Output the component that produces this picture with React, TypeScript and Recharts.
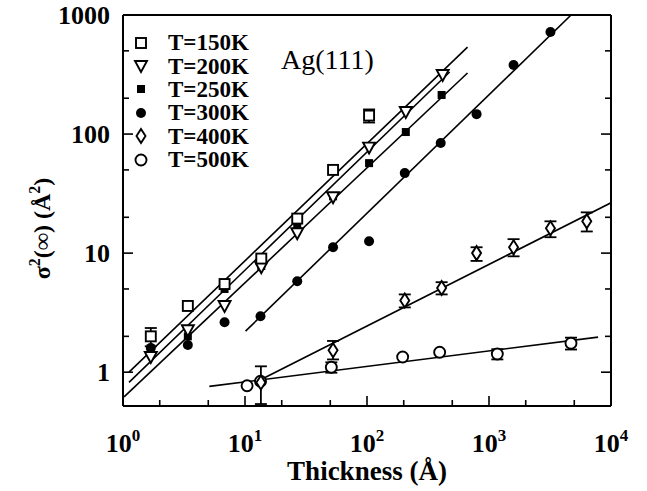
import React from "react";
import { ComposedChart, Line, Scatter, XAxis, YAxis, ErrorBar, Legend } from "recharts";

const FONT = '"Liberation Serif", "Times New Roman", serif';

// log axes: majors carry labels, 2 and 5 get short ticks
const xTicks = [1, 2, 5, 10, 20, 50, 100, 200, 500, 1000, 2000, 5000, 10000];
const xMajor = [1, 10, 100, 1000, 10000];
const yTicks = [1, 2, 5, 10, 20, 50, 100, 200, 500, 1000];
const yMajor = [1, 10, 100, 1000];

// T=150K
const t150x = [1.69, 3.4, 6.8, 13.6, 26.8, 52.7, 104];
const t150y = [2.0, 3.6, 5.5, 9.0, 19.5, 50, 143];
const t150e = [0.35, 0, 0, 0, 0, 0, 18];
// T=200K
const t200x = [1.69, 3.4, 6.8, 13.6, 26.8, 52.7, 104, 208, 417];
const t200y = [1.34, 2.25, 3.6, 7.6, 14.7, 29.5, 77, 153, 313];
// T=250K
const t250x = [1.69, 3.4, 6.8, 13.6, 26.8, 52.7, 104, 208, 409];
const t250y = [1.53, 2.0, 5.0, 7.8, 17.5, 30, 57, 104, 213];
// T=300K
const t300x = [1.69, 3.4, 6.8, 13.4, 26.8, 52.7, 104, 204, 402, 791, 1590, 3190];
const t300y = [1.6, 1.69, 2.63, 2.95, 5.8, 11.2, 12.6, 47, 84, 147, 380, 720];
// T=400K
const t400x = [13.5, 52.7, 204, 409, 791, 1590, 3190, 6330];
const t400y = [0.82, 1.53, 4.0, 5.1, 10, 11.2, 16.2, 18.5];
const t400lo = [0.28, 0.25, 0.5, 0.6, 1.4, 1.8, 2.6, 3.3];
const t400hi = [0.3, 0.3, 0.5, 0.6, 1.2, 1.9, 2.3, 3.5];
// T=500K
const t500x = [10.4, 13.4, 51, 196, 394, 1170, 4700];
const t500y = [0.77, 0.84, 1.1, 1.34, 1.47, 1.42, 1.75];
const t500e = [0, 0, 0.11, 0, 0, 0.14, 0.2];

// fitted lines, end points
const fit150x = [1.12, 667];
const fit150y = [1.0, 538];
const fit200x = [1.12, 476];
const fit200y = [0.82, 332];
const fit250x = [1.02, 667];
const fit250y = [0.62, 326];
const fit300x = [10.1, 4710];
const fit300y = [2.21, 1000];
const fit400x = [14.2, 10000];
const fit400y = [0.89, 26.5];
const fit500x = [5.1, 7830];
const fit500y = [0.76, 1.97];

const legendLabels = ["T=150K", "T=200K", "T=250K", "T=300K", "T=400K", "T=500K"];

const zip = (xs: number[], ys: number[], errs?: any[]) =>
  xs.map((x, i) => ({ x, y: ys[i], err: errs ? errs[i] : undefined }));

const d150 = zip(t150x, t150y, t150e);
const d200 = zip(t200x, t200y);
const d250 = zip(t250x, t250y);
const d300 = zip(t300x, t300y);
const d400 = zip(t400x, t400y, t400x.map((_, i) => [t400lo[i], t400hi[i]]));
const d500 = zip(t500x, t500y, t500e);
const fits = [
  zip(fit150x, fit150y),
  zip(fit200x, fit200y),
  zip(fit250x, fit250y),
  zip(fit300x, fit300y),
  zip(fit400x, fit400y),
  zip(fit500x, fit500y),
];

const SW = 1.9;
const OpenSquare = ({ cx, cy }: any) => (
  <rect x={cx - 5} y={cy - 5} width={10} height={10} fill="#fff" stroke="#000" strokeWidth={SW} />
);
const OpenTriangle = ({ cx, cy }: any) => (
  <polygon
    points={`${cx - 6},${cy - 5} ${cx + 6},${cy - 5} ${cx},${cy + 6}`}
    fill="#fff"
    stroke="#000"
    strokeWidth={SW}
  />
);
const FilledSquare = ({ cx, cy }: any) => <rect x={cx - 4} y={cy - 4} width={8} height={8} fill="#000" />;
const FilledCircle = ({ cx, cy }: any) => <circle cx={cx} cy={cy} r={5} fill="#000" />;
const OpenDiamond = ({ cx, cy }: any) => (
  <polygon
    points={`${cx},${cy - 7} ${cx + 4.5},${cy} ${cx},${cy + 7} ${cx - 4.5},${cy}`}
    fill="#fff"
    stroke="#000"
    strokeWidth={SW}
  />
);
const OpenCircle = ({ cx, cy }: any) => (
  <circle cx={cx} cy={cy} r={5.5} fill="#fff" stroke="#000" strokeWidth={SW} />
);
const markers = [OpenSquare, OpenTriangle, FilledSquare, FilledCircle, OpenDiamond, OpenCircle];

const BottomTick = ({ x, y, payload }: any) => {
  const major = xMajor.includes(payload.value);
  return (
    <g>
      <line x1={x} y1={y} x2={x} y2={y - (major ? 10 : 6)} stroke="#000" strokeWidth={1.6} />
      {major && (
        <text x={x} y={y + 46} textAnchor="middle" fontFamily={FONT} fontWeight="bold" fontSize={26} fill="#000">
          10
          <tspan dy={-11} fontSize={17}>
            {Math.round(Math.log10(payload.value))}
          </tspan>
        </text>
      )}
    </g>
  );
};
const TopTick = ({ x, y, payload }: any) => (
  <line x1={x} y1={y} x2={x} y2={y + (xMajor.includes(payload.value) ? 10 : 6)} stroke="#000" strokeWidth={1.6} />
);
const LeftTick = ({ x, y, payload }: any) => {
  const major = yMajor.includes(payload.value);
  return (
    <g>
      <line x1={x} y1={y} x2={x + (major ? 10 : 6)} y2={y} stroke="#000" strokeWidth={1.6} />
      {major && (
        <text x={x - 13} y={y + 9} textAnchor="end" fontFamily={FONT} fontWeight="bold" fontSize={26} fill="#000">
          {payload.value}
        </text>
      )}
    </g>
  );
};
const RightTick = ({ x, y, payload }: any) => (
  <line x1={x} y1={y} x2={x - (yMajor.includes(payload.value) ? 10 : 6)} y2={y} stroke="#000" strokeWidth={1.6} />
);

const XLabel = ({ viewBox }: any) => (
  <text
    x={viewBox.x + viewBox.width / 2}
    y={viewBox.y + 74}
    textAnchor="middle"
    fontFamily={FONT}
    fontWeight="bold"
    fontSize={27}
    fill="#000"
  >
    Thickness (Å)
  </text>
);
const YLabel = ({ viewBox }: any) => {
  const cy = viewBox.y + viewBox.height / 2 + 18;
  return (
    <text
      transform={`translate(50, ${cy}) rotate(-90)`}
      textAnchor="middle"
      fontFamily={FONT}
      fontWeight="bold"
      fontSize={24}
      fill="#000"
    >
      σ<tspan dy={-10} fontSize={16}>2</tspan>
      <tspan dy={10}>(∞) (Å</tspan>
      <tspan dy={-10} fontSize={16}>2</tspan>
      <tspan dy={10}>)</tspan>
    </text>
  );
};

const LegendBox = () => (
  <div style={{ fontFamily: FONT, fontWeight: "bold", fontSize: 23, color: "#000" }}>
    {legendLabels.map((label, i) => {
      const M = markers[i];
      return (
        <div key={label} style={{ display: "flex", alignItems: "center", height: 23.4 }}>
          <svg width={26} height={20}>
            <M cx={13} cy={10} />
          </svg>
          <span style={{ marginLeft: 14, lineHeight: "23px" }}>{label}</span>
        </div>
      );
    })}
  </div>
);

const axisLine = { stroke: "#000", strokeWidth: 2 };

export default function App() {
  return (
    <div style={{ position: "absolute", left: 0, top: 0, width: 647, height: 491, background: "#fff" }}>
      <ComposedChart width={647} height={491} margin={{ top: 14, right: 35, left: 0, bottom: 0 }}>
        <XAxis
          dataKey="x"
          type="number"
          scale="log"
          domain={[1, 10000]}
          ticks={xTicks}
          allowDataOverflow
          height={85}
          tickSize={0}
          tickMargin={0}
          tickLine={false}
          axisLine={axisLine}
          tick={<BottomTick />}
          interval={0}
          label={<XLabel />}
        />
        <XAxis
          xAxisId="top"
          orientation="top"
          type="number"
          scale="log"
          domain={[1, 10000]}
          ticks={xTicks}
          allowDataOverflow
          height={1}
          tickSize={0}
          tickMargin={0}
          tickLine={false}
          axisLine={axisLine}
          tick={<TopTick />}
          interval={0}
        />
        <YAxis
          dataKey="y"
          type="number"
          scale="log"
          domain={[0.52, 1000]}
          ticks={yTicks}
          allowDataOverflow
          width={123}
          tickSize={0}
          tickMargin={0}
          tickLine={false}
          axisLine={axisLine}
          tick={<LeftTick />}
          interval={0}
          label={<YLabel />}
        />
        <YAxis
          yAxisId="right"
          orientation="right"
          type="number"
          scale="log"
          domain={[0.52, 1000]}
          ticks={yTicks}
          allowDataOverflow
          width={1}
          tickSize={0}
          tickMargin={0}
          tickLine={false}
          axisLine={axisLine}
          tick={<RightTick />}
          interval={0}
        />
        {fits.map((f, i) => (
          <Line
            key={`fit${i}`}
            data={f}
            dataKey="y"
            dot={false}
            activeDot={false}
            stroke="#000"
            strokeWidth={1.6}
            legendType="none"
            isAnimationActive={false}
          />
        ))}
        <Scatter data={d300} shape={(p: any) => <FilledCircle cx={p.cx} cy={p.cy} />} isAnimationActive={false} />
        <Scatter data={d250} shape={(p: any) => <FilledSquare cx={p.cx} cy={p.cy} />} isAnimationActive={false} />
        <Scatter data={d200} shape={(p: any) => <OpenTriangle cx={p.cx} cy={p.cy} />} isAnimationActive={false} />
        <Scatter data={d150} shape={(p: any) => <OpenSquare cx={p.cx} cy={p.cy} />} isAnimationActive={false}>
          <ErrorBar dataKey="err" direction="y" width={6} stroke="#000" strokeWidth={1.8} />
        </Scatter>
        <Scatter data={d500} shape={(p: any) => <OpenCircle cx={p.cx} cy={p.cy} />} isAnimationActive={false}>
          <ErrorBar dataKey="err" direction="y" width={6} stroke="#000" strokeWidth={1.8} />
        </Scatter>
        <Scatter data={d400} shape={(p: any) => <OpenDiamond cx={p.cx} cy={p.cy} />} isAnimationActive={false}>
          <ErrorBar dataKey="err" direction="y" width={6} stroke="#000" strokeWidth={1.8} />
        </Scatter>
        <Legend
          layout="vertical"
          align="center"
          verticalAlign="middle"
          wrapperStyle={{ left: 128, top: 31, width: 150, height: 145 }}
          content={() => <LegendBox />}
        />
      </ComposedChart>
      <div
        style={{
          position: "absolute",
          left: 281,
          top: 42,
          fontFamily: FONT,
          fontSize: 28,
          color: "#000",
          lineHeight: "36px",
        }}
      >
        Ag(111)
      </div>
    </div>
  );
}
